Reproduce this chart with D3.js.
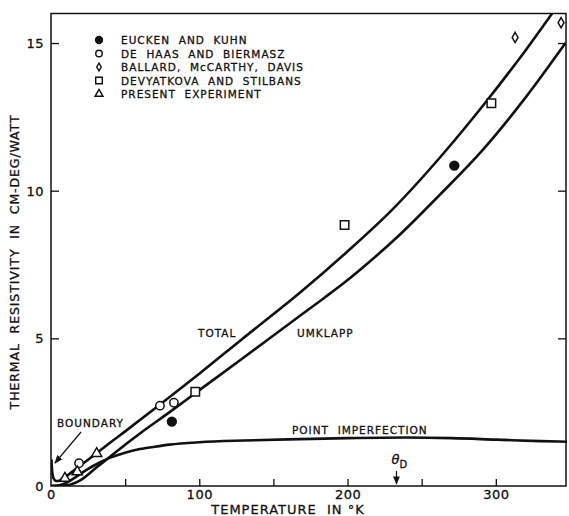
<!DOCTYPE html>
<html>
<head>
<meta charset="utf-8">
<script src="https://cdn.jsdelivr.net/npm/d3@7"></script>
<style>
  body { margin: 0; background: #fff; }
  svg { display: block; }
  text { font-family: "DejaVu Sans", Arial, sans-serif; fill: #111; stroke: #111; stroke-width: 0.3px; white-space: pre; }
  .tick line { stroke: #111; stroke-width: 1.3; }
  .tick text { font-size: 13px; letter-spacing: 0.5px; }
  .curve { fill: none; stroke: #111; stroke-width: 2.6; }
  .lbl { font-size: 10.5px; letter-spacing: 1px; }
</style>
</head>
<body>
<div id="viz"></div>
<script>
// curves, [temperature K, resistivity]
const totalCurve = [[0.3, 0.9], [0.7, 0.55], [1.3, 0.33], [2.2, 0.22], [3.5, 0.17], [5.5, 0.18],
  [9, 0.28], [14, 0.47], [20, 0.7], [30, 1.08], [40, 1.47], [50, 1.85], [73.5, 2.76], [100, 3.8],
  [129, 4.98], [168, 6.55], [199, 7.9], [230, 9.35], [264.5, 11.25], [292.6, 12.96],
  [320, 14.75], [345, 16.5]];
const umklappCurve = [[0, 0], [10, 0.02], [20, 0.2], [30, 0.6], [40, 1.0], [50, 1.4], [60, 1.78],
  [80, 2.5], [98, 3.17], [130, 4.35], [160, 5.47], [184, 6.36], [199, 6.93], [215, 7.6],
  [235, 8.5], [262, 9.85], [291.5, 11.4], [320, 13.15], [347, 15.0]];
const pointCurve = [[0, 0], [5, 0.02], [10, 0.1], [15, 0.25], [20, 0.42], [25, 0.58], [30, 0.72],
  [35, 0.85], [40, 0.96], [50, 1.13], [60, 1.25], [70, 1.33], [80, 1.4], [100, 1.48], [130, 1.54],
  [160, 1.58], [200, 1.62], [240, 1.64], [270, 1.62], [300, 1.57], [330, 1.52], [348, 1.5]];

// measured points
const euckenKuhn = [[81.5, 2.18], [272, 10.85]];
const deHaas = [[18.9, 0.77], [73.5, 2.72], [82.9, 2.82]];
const ballard = [[313, 15.19], [344, 15.69]];
const devyatkova = [[97.3, 3.19], [198, 8.84], [297, 12.96]];
const present = [[9.4, 0.26], [17.7, 0.48], [30.8, 1.1]];

const legendNames = ["EUCKEN  AND  KUHN", "DE  HAAS  AND  BIERMASZ", "BALLARD,  McCARTHY,  DAVIS",
  "DEVYATKOVA  AND  STILBANS", "PRESENT  EXPERIMENT"];
const xTicks = [0, 50, 100, 150, 200, 250, 300];
const xTickLabels = [0, 100, 200, 300];
const yTicks = [0, 5, 10, 15];
const debyeT = 233;

const W = 569, H = 516;
const svg = d3.select("#viz").append("svg")
    .attr("width", W)
    .attr("height", H);

const x = d3.scaleLinear().domain([0, 348]).range([51, 567]);
const y = d3.scaleLinear().domain([0, 16]).range([486, 13.5]);

// clip for the curves
svg.append("clipPath").attr("id", "plot")
  .append("rect")
    .attr("x", x(0)).attr("y", y(16))
    .attr("width", x(348) - x(0)).attr("height", y(0) - y(16));

// axes
svg.append("g")
    .attr("transform", `translate(0,${y(0)})`)
    .call(d3.axisBottom(x).tickValues(xTicks).tickSize(-7).tickPadding(4)
      .tickFormat(d => xTickLabels.includes(d) ? d : ""))
    .call(g => g.select(".domain").remove())
    .call(g => g.selectAll(".tick").filter(d => d === 0).select("line").remove());

svg.append("g")
    .attr("transform", `translate(${x(0)},0)`)
    .call(d3.axisLeft(y).tickValues(yTicks).tickSize(-8).tickPadding(7))
    .call(g => g.select(".domain").remove())
    .call(g => g.selectAll(".tick").filter(d => d === 0).select("line").remove())
    .call(g => g.selectAll(".tick text").attr("dy", "0.35em"));

svg.append("g")
    .attr("transform", `translate(${x(348) - 1},0)`)
    .call(d3.axisRight(y).tickValues([5, 10, 15]).tickSize(-8).tickFormat(""))
    .call(g => g.select(".domain").remove());

// frame
svg.append("rect")
    .attr("x", x(0)).attr("y", y(16))
    .attr("width", x(348) - 1 - x(0)).attr("height", y(0) - y(16))
    .attr("fill", "none").attr("stroke", "#111").attr("stroke-width", 1.5);

// curves
const line = d3.line()
    .x(d => x(d[0]))
    .y(d => y(d[1]))
    .curve(d3.curveMonotoneX);

const curves = svg.append("g").attr("clip-path", "url(#plot)");
[totalCurve, umklappCurve, pointCurve].forEach(c => {
  curves.append("path").datum(c).attr("class", "curve").attr("d", line);
});

// markers
const shapes = [
  { data: euckenKuhn, type: d3.symbolCircle, size: 62, fill: "#111" },
  { data: deHaas, type: d3.symbolCircle, size: 55, fill: "#fff" },
  { data: ballard, type: d3.symbolDiamond, size: 30, fill: "#fff" },
  { data: devyatkova, type: d3.symbolSquare, size: 72, fill: "#fff" },
  { data: present, type: d3.symbolTriangle, size: 45, fill: "#fff" }
];

shapes.forEach(s => {
  svg.append("g").selectAll("path")
    .data(s.data)
    .join("path")
      .attr("transform", d => `translate(${x(d[0])},${y(d[1])})`)
      .attr("d", d3.symbol(s.type, s.size))
      .attr("fill", s.fill)
      .attr("stroke", "#111")
      .attr("stroke-width", 1.5);
});

// legend
const legend = svg.append("g").attr("transform", "translate(99,40)");
legendNames.forEach((name, i) => {
  const s = shapes[i];
  const row = legend.append("g").attr("transform", `translate(0,${i * 13.5})`);
  row.append("path")
    .attr("d", d3.symbol(s.type, s.size * 0.6))
    .attr("fill", s.fill).attr("stroke", "#111").attr("stroke-width", 1.4);
  row.append("text")
    .attr("class", "lbl")
    .attr("x", 22).attr("dy", "0.38em")
    .text(name);
});

// curve labels
svg.append("text").attr("class", "lbl").attr("x", 198).attr("y", 337).text("TOTAL");
svg.append("text").attr("class", "lbl").attr("x", 297).attr("y", 337).text("UMKLAPP");
svg.append("text").attr("class", "lbl").attr("x", 292).attr("y", 434).text("POINT  IMPERFECTION");
svg.append("text").attr("class", "lbl").attr("x", 57).attr("y", 427).text("BOUNDARY");

// boundary arrow
svg.append("defs").append("marker")
    .attr("id", "ah").attr("viewBox", "0 0 10 10")
    .attr("refX", 9).attr("refY", 5)
    .attr("markerWidth", 7).attr("markerHeight", 7)
    .attr("orient", "auto")
  .append("path").attr("d", "M0,1 L10,5 L0,9 Z").attr("fill", "#111");

svg.append("line")
    .attr("x1", 81).attr("y1", 432)
    .attr("x2", 55).attr("y2", 463)
    .attr("stroke", "#111").attr("stroke-width", 1.2)
    .attr("marker-end", "url(#ah)");

// Debye temperature mark
const th = svg.append("text").attr("x", x(debyeT) - 5).attr("y", 464)
    .attr("font-size", 13).attr("font-style", "italic");
th.append("tspan").text("θ");
th.append("tspan").attr("font-size", 10).attr("font-style", "normal").attr("dy", 4).text("D");
svg.append("line")
    .attr("x1", x(debyeT)).attr("y1", 471)
    .attr("x2", x(debyeT)).attr("y2", 484)
    .attr("stroke", "#111").attr("stroke-width", 1.2)
    .attr("marker-end", "url(#ah)");

// axis titles
svg.append("text")
    .attr("x", 288).attr("y", 514)
    .attr("text-anchor", "middle")
    .attr("font-size", 13).attr("letter-spacing", "1px")
    .text("TEMPERATURE  IN °K");

svg.append("text")
    .attr("transform", "translate(19,262) rotate(-90)")
    .attr("text-anchor", "middle")
    .attr("font-size", 12.5).attr("letter-spacing", "0.9px")
    .text("THERMAL  RESISTIVITY  IN  CM-DEG/WATT");
</script>
</body>
</html>
